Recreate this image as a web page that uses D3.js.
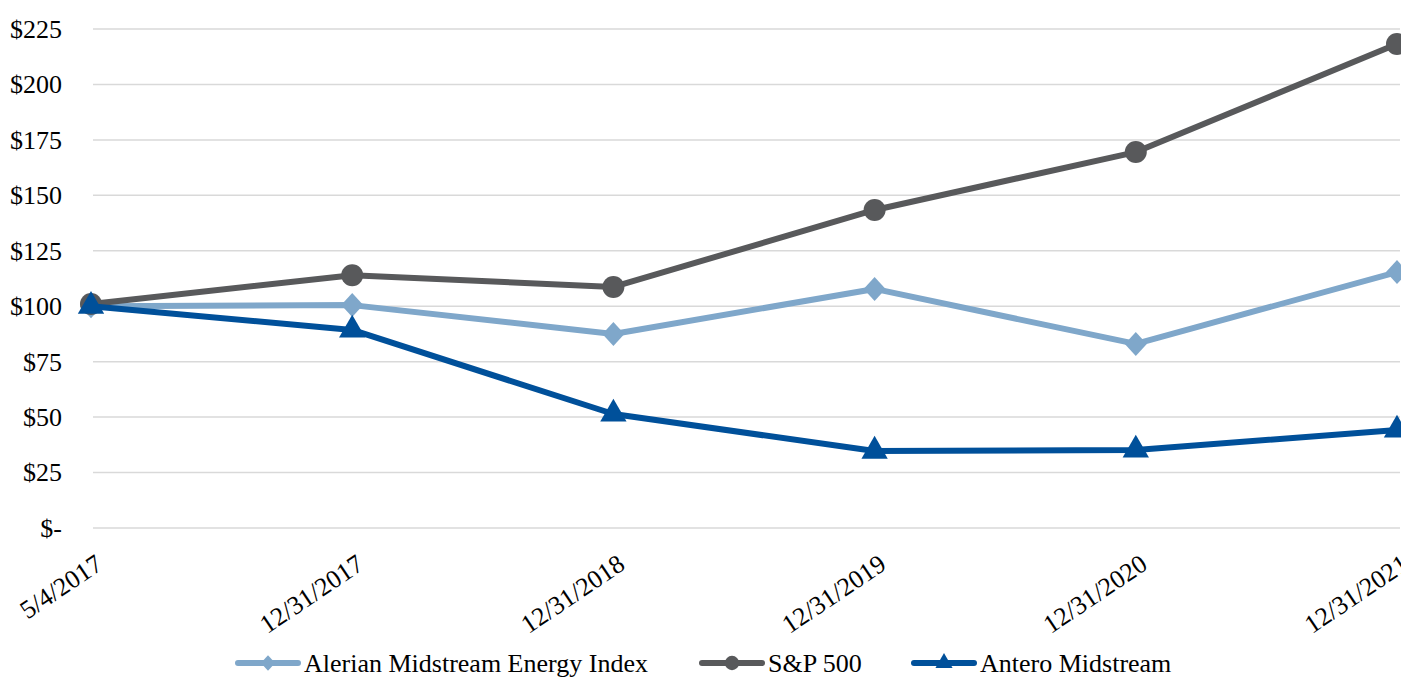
<!DOCTYPE html>
<html>
<head>
<meta charset="utf-8">
<script src="https://cdn.jsdelivr.net/npm/d3@7/dist/d3.min.js"></script>
<style>
  body { margin: 0; background: #fff; }
  text { font-family: "Liberation Serif", "Times New Roman", serif; fill: #000; }
</style>
</head>
<body>
<script>
const dates = ['5/4/2017', '12/31/2017', '12/31/2018', '12/31/2019', '12/31/2020', '12/31/2021'];
const alerian = [100, 100.5, 87.5, 107.8, 83, 115.4];
const sp500 = [101, 114, 108.7, 143.4, 169.5, 218.2];
const antero = [100, 89.3, 51.4, 34.7, 35.2, 44.2];
const yTicks = [0, 25, 50, 75, 100, 125, 150, 175, 200, 225];

const series = [
  { name: 'Alerian Midstream Energy Index', values: alerian, color: '#7fa7ca', shape: 'diamond' },
  { name: 'S&P 500', values: sp500, color: '#58595b', shape: 'circle' },
  { name: 'Antero Midstream', values: antero, color: '#00509a', shape: 'triangle' }
];

const W = 1401, H = 679;
const svg = d3.select('body')
  .append('svg')
  .attr('width', W)
  .attr('height', H)
  .attr('style', 'display:block;');

const x = d3.scalePoint().domain(dates).range([91, 1397]);
const y = d3.scaleLinear().domain([0, 225]).range([528, 29]);

// gridlines
svg.append('g')
  .selectAll('line')
  .data(yTicks)
  .enter()
  .append('line')
  .attr('x1', 93)
  .attr('x2', 1400)
  .attr('y1', (d) => y(d))
  .attr('y2', (d) => y(d))
  .attr('stroke', '#d9d9d9')
  .attr('stroke-width', 1.5);

// y labels
svg.append('g')
  .selectAll('text')
  .data(yTicks)
  .enter()
  .append('text')
  .attr('x', 62)
  .attr('y', (d) => y(d))
  .attr('dy', '0.34em')
  .attr('text-anchor', 'end')
  .style('font-size', '26px')
  .text((d) => d === 0 ? '$-' : '$' + d);

// x labels, slanted
svg.append('g')
  .selectAll('text')
  .data(dates)
  .enter()
  .append('text')
  .attr('transform', (d) => `translate(${x(d) + 3}, 553) rotate(-34)`)
  .attr('dy', '0.7em')
  .attr('text-anchor', 'end')
  .style('font-size', '26px')
  .text((d) => d);

const symbolFor = (shape, k) => {
  if (shape === 'circle') return d3.symbol().type(d3.symbolCircle).size(380 * k * k)();
  if (shape === 'triangle') return d3.symbol().type(d3.symbolTriangle).size(300 * k * k)();
  // wider diamond than d3's default
  const w = 11 * k, h = 12 * k;
  return `M0,${-h}L${w},0L0,${h}L${-w},0Z`;
};

const line = d3.line()
  .x((d, i) => x(dates[i]))
  .y((d) => y(d));

series.forEach((s) => {
  const g = svg.append('g');
  g.append('path')
    .attr('d', line(s.values))
    .attr('fill', 'none')
    .attr('stroke', s.color)
    .attr('stroke-width', 6)
    .attr('stroke-linejoin', 'round');
  g.selectAll('.marker')
    .data(s.values)
    .enter()
    .append('path')
    .attr('class', 'marker')
    .attr('transform', (d, i) => `translate(${x(dates[i])}, ${y(d)})`)
    .attr('d', symbolFor(s.shape, 1))
    .attr('fill', s.color);
});

// legend
const legendItems = [
  { s: series[0], x: 238 },
  { s: series[1], x: 702 },
  { s: series[2], x: 914 }
];
const ly = 663;
legendItems.forEach((item) => {
  const g = svg.append('g').attr('transform', `translate(${item.x}, ${ly})`);
  g.append('line')
    .attr('x1', 0).attr('x2', 60)
    .attr('stroke', item.s.color)
    .attr('stroke-width', 6)
    .attr('stroke-linecap', 'round');
  g.append('path')
    .attr('transform', 'translate(30, 0)')
    .attr('d', symbolFor(item.s.shape, 0.65))
    .attr('fill', item.s.color);
  g.append('text')
    .attr('x', 66)
    .attr('dy', '0.34em')
    .style('font-size', '26px')
    .text(item.s.name);
});
</script>
</body>
</html>
